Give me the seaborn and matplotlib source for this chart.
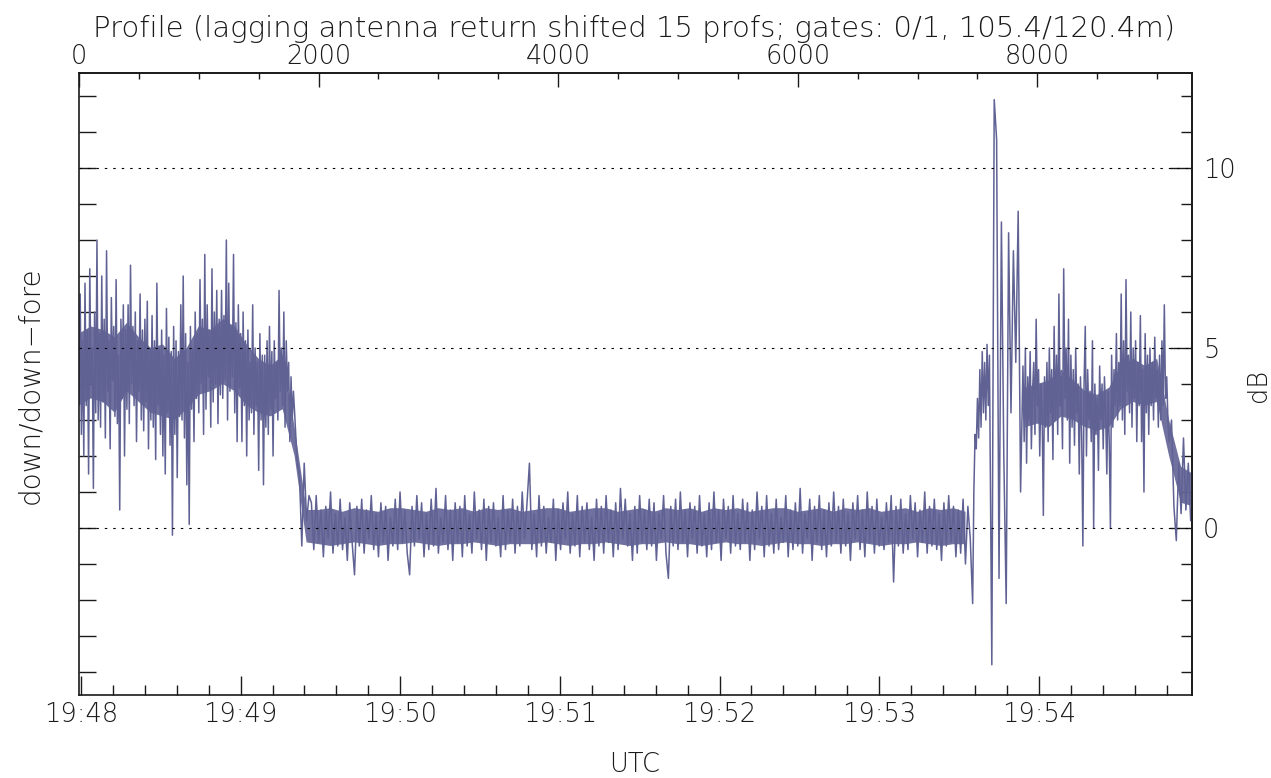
import numpy as np
import pandas as pd
import matplotlib
matplotlib.use("Agg")
import matplotlib.pyplot as plt
from matplotlib.ticker import MultipleLocator, FixedLocator, FuncFormatter
import seaborn as sns

sns.set_theme(style="white")
plt.rcParams["font.family"] = ["DejaVu Sans"]
plt.rcParams["font.weight"] = "light"

# ---------------- data (dB values of the trace) ----------------
PROF_PER_SEC = 22.21      # profiles per second
T_OFFSET = -0.75          # seconds after 19:48:00 of profile 0
N_PROFILES = 9291

# each segment: first profile, profile step, values
seg_high_start, seg_high_step = 0, 10
seg_high = [4.0, 6.5, 2.6, 5.2, 2.0, 6.8, 3.4, 5.5, 1.5, 7.2, 4.0, 5.0, 1.1, 6.0, 3.2, 8.0, 3.0, 5.4, 2.8, 7.0,
            3.5, 5.8, 2.5, 7.7, 3.8, 5.2, 2.2, 6.4, 4.1, 5.6, 3.1, 6.9, 2.9, 4.8, 0.5, 5.8, 3.6, 6.2, 2.0, 5.5,
            3.3, 6.2, 2.9, 7.3, 4.0, 5.6, 3.4, 6.0, 2.4, 5.2, 3.8, 6.5, 3.0, 5.5, 2.7, 5.8, 3.5, 6.3, 2.2, 5.0,
            3.0, 5.9, 2.8, 5.2, 1.9, 6.8, 3.4, 5.0, 2.6, 5.5, 2.0, 4.8, 1.5, 6.1, 3.2, 5.3, 2.3, 4.9, -0.2, 5.6,
            2.6, 5.2, 1.4, 4.9, 3.1, 6.2, 3.0, 7.0, 2.5, 5.4, 1.2, 4.6, 0.1, 5.6, 3.3, 5.0, 2.4, 6.0, 3.6, 5.4,
            3.2, 6.9, 4.0, 5.8, 2.6, 7.6, 3.3, 6.2, 4.2, 5.5, 2.8, 7.2, 3.5, 6.0, 4.0, 6.6, 2.9, 5.8, 3.7, 6.6,
            3.6, 5.9, 4.1, 8.0, 3.0, 6.8, 3.8, 5.6, 4.2, 7.6, 3.2, 5.7, 2.4, 6.2, 3.9, 5.4, 2.4, 6.0, 3.4, 5.2,
            2.0, 5.5, 3.0, 4.6, 3.2, 6.2, 2.6, 5.0, 3.4, 4.6, 1.6, 5.4, 3.0, 4.8, 1.2, 4.8, 2.8, 5.2, 2.6, 5.6,
            3.3, 4.9, 2.0, 5.2, 3.6, 4.6, 3.0, 6.6, 3.8, 5.0, 3.4, 6.0, 2.8, 5.2, 3.8, 4.6, 2.4, 4.2, 3.0, 3.8]
seg_drop_start, seg_drop_step = 1800, 20
seg_drop = [3.2, 1.9, 1.5, -0.5, 1.8, 0.2, 0.9]
seg_flat_start, seg_flat_step = 1940, 20
seg_flat = [0.7, -0.6, 0.9, -0.4, 0.5, -0.8, 0.6, -0.3, 1.0, -0.7, 0.4, -0.5, 0.8, -0.6, 0.3, -0.9, 0.7, -0.4, -1.3, 0.6,
            -0.5, 0.8, -0.7, 0.5, -0.3, 0.9, -0.6, 0.4, -0.8, 0.7, -0.4, 0.6, -0.9, 0.3, -0.5, 0.8, -0.6, 1.0, -0.4, 0.5,
            -0.7, -1.3, 0.6, -0.5, 0.9, -0.3, 0.7, -0.8, 0.4, -0.6, 0.8, -0.5, 1.1, -0.7, 0.3, -0.4, 0.9, -0.6, 0.5, -0.9,
            0.7, -0.4, 0.6, -0.8, 0.9, -0.5, 0.4, -0.7, 1.0, -0.3, 0.5, -0.6, 0.8, -0.9, 0.6, -0.4, 0.7, -0.5, 0.3, -0.8,
            0.9, -0.6, 0.5, -0.4, 0.8, -0.7, 0.6, -0.5, 1.0, -0.3, 0.7, 1.8, -0.6, 0.4, -0.8, 0.9, -0.5, 0.6, -0.7, 0.3,
            -0.4, 0.8, -0.9, 0.5, -0.6, 0.7, -0.3, 1.0, -0.7, 0.4, -0.5, 0.9, -0.8, 0.6, -0.4, 0.7, -0.6, 0.3, -0.9, 0.8,
            -0.5, 0.6, -0.7, 0.9, -0.4, 0.5, -0.8, 0.7, -0.6, 1.1, -0.3, 0.8, -0.5, 0.4, -0.9, 0.6, -0.7, 0.9, -0.4, 0.5,
            -0.6, 0.8, -0.5, 0.7, -0.9, 0.4, -0.3, 0.9, -0.7, -1.4, 0.6, -0.5, 0.8, -0.6, 1.0, -0.4, 0.5, -0.8, 0.7, -0.3,
            0.6, -0.7, 0.9, -0.5, 0.4, -0.8, 0.7, -0.6, 1.0, -0.4, 0.5, -0.9, 0.8, -0.3, 0.6, -0.7, 0.9, -0.5, 0.4, -0.6,
            0.8, -0.4, 0.7, -0.9, 0.5, -0.6, 1.0, -0.3, 0.6, -0.8, 0.9, -0.5, 0.4, -0.7, 0.8, -0.6, 0.3, -0.4, 0.9, -0.8,
            0.5, -0.6, 0.7, -0.5, 1.1, -0.7, 0.4, -0.3, 0.8, -0.9, 0.6, -0.4, 0.9, -0.6, 0.5, -0.8, 0.7, -0.5, 1.0, -0.4,
            0.6, -0.7, 0.8, -0.5, 0.4, -0.9, 0.7, -0.3, 0.9, -0.6, 0.5, -0.8, 1.0, -0.4, 0.6, -0.7, 0.8, -0.5, 0.3, -0.6,
            0.7, -0.4, 0.9, -1.5, 0.6, -0.5, 0.8, -0.7, 0.4, -0.6, 0.9, -0.3, 0.7, -0.8, 0.5, -0.4, 1.0, -0.7, 0.6, -0.5,
            0.8, -0.6, 0.4, -0.9, 0.7, -0.5, 0.9, -0.4, 0.6, -0.8, 0.5, -0.7, 0.8, -1.0, 0.6, -0.3]
seg_jump_start, seg_jump_step = 7460, 10
seg_jump = [-2.1, 1.0, 2.6, 2.2, 3.6, 2.5, 4.4, 2.8, 4.9, 3.2, 4.6, 3.0, 5.1, 3.4, 4.8, 0.6]
seg_burst_start, seg_burst_step = 7620, 20
seg_burst = [-3.8, 11.9, 10.8, -1.4, 8.5, 2.0, -2.1, 8.2, 3.2, 7.7, 4.6, 8.8, 1.0]
seg_band_start, seg_band_step = 7880, 10
seg_band = [4.5, 2.4, 5.0, 1.8, 4.2, 3.0, 4.9, 2.2, 3.8, 4.6, 2.6, 5.8, 3.4, 4.4, 2.0, 4.0, 3.2, 0.35, 4.2, 2.8,
            4.6, 2.4, 5.0, 3.2, 4.4, 1.9, 5.6, 3.0, 4.8, 2.6, 6.5, 3.4, 4.2, 2.2, 7.2, 3.6, 5.0, 3.0, 5.8, 1.8,
            4.8, 2.8, 4.4, 2.3, 5.0, 3.2, 4.0, 1.5, 4.2, 2.6, -0.5, 4.0, 5.6, 2.0, 4.4, 3.0, 3.8, 2.4, 5.2, 0.0,
            4.0, 2.6, 3.6, 1.6, 4.5, 3.0, 4.0, 2.2, 4.2, 3.2, 1.5, 3.8, 2.4, 0.0, 4.8, 2.8, 4.4, 3.4, 5.4, 3.0,
            4.6, 3.4, 6.5, 3.0, 5.2, 2.6, 6.9, 3.8, 4.8, 3.2, 6.0, 2.8, 5.0, 3.6, 5.2, 2.4, 4.6, 3.4, 5.9, 2.4,
            4.4, 1.0, 5.4, 3.2, 4.8, 2.6, 5.0, 3.4, 4.6, 3.0, 5.3, 3.6, 4.4, 2.8, 4.8, 3.0, 5.2, 3.4, 6.2, 3.6,
            4.2, 3.0]
seg_tail_start, seg_tail_step = 9100, 20
seg_tail = [2.4, 3.0, 0.6, -0.35, 1.8, 0.4, 2.5, 0.5, 1.8, 0.2]

# dense core of the trace (where it looks solid), one pair every CORE_STEP profiles
CORE_STEP = 100
core_lo = [3.4, 3.6, 3.5, 3.2, 3.8, 3.5, 3.2, 3.1, 3.0, 3.3,
           3.7, 3.8, 4.0, 3.8, 3.4, 3.2, 3.1, 3.3, 2.0, -0.4,
           -0.45, -0.5, -0.45, -0.4, -0.45, -0.5, -0.45, -0.45, -0.4, -0.45,
           -0.5, -0.45, -0.45, -0.4, -0.45, -0.5, -0.45, -0.45, -0.45, -0.4,
           -0.45, -0.5, -0.45, -0.45, -0.4, -0.45, -0.5, -0.45, -0.45, -0.4,
           -0.45, -0.45, -0.5, -0.45, -0.4, -0.45, -0.45, -0.5, -0.45, -0.4,
           -0.45, -0.45, -0.5, -0.45, -0.45, -0.4, -0.45, -0.5, -0.45, -0.45,
           -0.4, -0.45, -0.5, -0.45, -0.45, np.nan, np.nan, np.nan, np.nan, 2.8,
           2.9, 2.8, 3.1, 3.0, 2.8, 2.7, 2.8, 3.3, 3.5, 3.4,
           3.5, 2.0, 0.7, 0.6]
core_hi = [5.4, 5.6, 5.5, 5.3, 5.7, 5.3, 5.0, 5.1, 4.7, 5.0,
           5.6, 5.5, 5.8, 5.6, 5.1, 4.7, 4.5, 4.8, 2.8, 0.5,
           0.5, 0.55, 0.45, 0.55, 0.5, 0.45, 0.55, 0.55, 0.5, 0.45,
           0.55, 0.5, 0.55, 0.45, 0.55, 0.5, 0.55, 0.45, 0.5, 0.55,
           0.55, 0.45, 0.5, 0.55, 0.55, 0.45, 0.5, 0.55, 0.45, 0.55,
           0.5, 0.55, 0.45, 0.55, 0.5, 0.55, 0.45, 0.5, 0.55, 0.55,
           0.45, 0.5, 0.55, 0.45, 0.55, 0.5, 0.55, 0.45, 0.5, 0.55,
           0.45, 0.55, 0.5, 0.55, 0.45, np.nan, np.nan, np.nan, np.nan, 3.9,
           4.0, 4.1, 4.4, 4.1, 3.8, 3.7, 3.9, 4.5, 4.7, 4.5,
           4.7, 3.0, 1.7, 1.5]

segments = [(seg_high_start, seg_high_step, seg_high), (seg_drop_start, seg_drop_step, seg_drop),
            (seg_flat_start, seg_flat_step, seg_flat), (seg_jump_start, seg_jump_step, seg_jump),
            (seg_burst_start, seg_burst_step, seg_burst), (seg_band_start, seg_band_step, seg_band),
            (seg_tail_start, seg_tail_step, seg_tail)]
profile = np.concatenate([start + step * np.arange(len(v)) for start, step, v in segments])
values = np.concatenate([np.asarray(v, dtype=float) for _, _, v in segments])
seconds = T_OFFSET + profile / PROF_PER_SEC
df = pd.DataFrame({"t": seconds, "dB": values})

core_prof = np.arange(len(core_lo)) * CORE_STEP
core_t = T_OFFSET + core_prof / PROF_PER_SEC

time_ticks = [0, 60, 120, 180, 240, 300, 360]
time_labels = ["19:48", "19:49", "19:50", "19:51", "19:52", "19:53", "19:54"]
profile_ticks = [0, 2000, 4000, 6000, 8000]
profile_minor = [500, 1000, 1500, 2500, 3000, 3500, 4500, 5000, 5500,
                 6500, 7000, 7500, 8500, 9000]

# ---------------- figure ----------------
W, H = 1271, 778
fig = plt.figure(figsize=(W / 100, H / 100), dpi=100)
L, R, T, B = 79, 1192, 73, 695
ax = fig.add_axes([L / W, 1 - B / H, (R - L) / W, (B - T) / H])

LINE = "#606294"
ax.fill_between(core_t, core_lo, core_hi, color=LINE, linewidth=0, alpha=0.9, zorder=2)
sns.lineplot(data=df, x="t", y="dB", ax=ax, color=LINE, linewidth=1.1,
             estimator=None, sort=False, zorder=2)

ax.set_xlim(T_OFFSET, T_OFFSET + N_PROFILES / PROF_PER_SEC)
ax.set_ylim(-4.64, 12.64)
for yv in [0, 5, 10]:
    ax.axhline(yv, color="black", lw=0.8, ls=(0, (2.2, 5.4)), zorder=3)

FS = 18.5
INK = "#1a1a1a"
for s in ax.spines.values():
    s.set_color(INK)
    s.set_linewidth(1.2)

# bottom: time axis
ax.xaxis.set_major_locator(FixedLocator(time_ticks))
ax.xaxis.set_major_formatter(FuncFormatter(
    lambda v, p: time_labels[time_ticks.index(int(round(v)))] if int(round(v)) in time_ticks else ""))
ax.xaxis.set_minor_locator(MultipleLocator(12))
ax.tick_params(axis="x", which="major", direction="in", length=13.7, width=1, color=INK,
               bottom=True, top=False, pad=5, labelsize=FS, labelcolor=INK)
ax.tick_params(axis="x", which="minor", direction="in", length=7.2, width=1, color=INK,
               bottom=True, top=False)

# left: unlabelled dB ticks
ax.yaxis.set_major_locator(MultipleLocator(1))
ax.tick_params(axis="y", which="major", direction="in", length=12.2, width=1, color=INK,
               left=True, right=False, labelleft=False)
ax.set_xlabel("")
ax.set_ylabel("")

# top: profile axis
top = ax.secondary_xaxis("top", functions=(lambda s: (s - T_OFFSET) * PROF_PER_SEC,
                                           lambda p: T_OFFSET + p / PROF_PER_SEC))
top.xaxis.set_major_locator(FixedLocator(profile_ticks))
top.xaxis.set_minor_locator(FixedLocator(profile_minor))
top.xaxis.set_major_formatter(FuncFormatter(lambda v, p: f"{int(round(v))}"))
top.tick_params(axis="x", which="major", direction="in", length=10, width=1, color=INK,
                pad=3, labelsize=FS, labelcolor=INK)
top.tick_params(axis="x", which="minor", direction="in", length=4.3, width=1, color=INK)
top.spines["top"].set_color(INK)

# right: labelled dB axis
right = ax.secondary_yaxis("right")
right.yaxis.set_major_locator(FixedLocator([0, 5, 10]))
right.yaxis.set_minor_locator(FixedLocator([-4, -3, -2, -1, 1, 2, 3, 4, 6, 7, 8, 9, 11, 12]))
right.yaxis.set_major_formatter(FuncFormatter(lambda v, p: f"{int(round(v))}"))
right.tick_params(axis="y", which="major", direction="in", length=15.8, width=1, color=INK,
                  pad=8, labelsize=FS, labelcolor=INK)
right.tick_params(axis="y", which="minor", direction="in", length=7.9, width=1, color=INK)
right.spines["right"].set_color(INK)

# texts
fig.text(634 / W, 1 - 37 / H,
         "Profile (lagging antenna return shifted 15 profs; gates: 0/1, 105.4/120.4m)",
         ha="center", va="baseline", fontsize=21, color=INK)
fig.text(635 / W, 1 - 765 / H, "UTC", ha="center", va="center", fontsize=FS, color=INK)
fig.text(30 / W, 1 - 385 / H, "down/down\u2212fore", ha="center", va="center",
         rotation=90, fontsize=20, color=INK)
fig.text(1258 / W, 1 - 385 / H, "dB", ha="center", va="center", rotation=90,
         fontsize=FS, color=INK)

fig.savefig("out.png", dpi=100, facecolor="white")
